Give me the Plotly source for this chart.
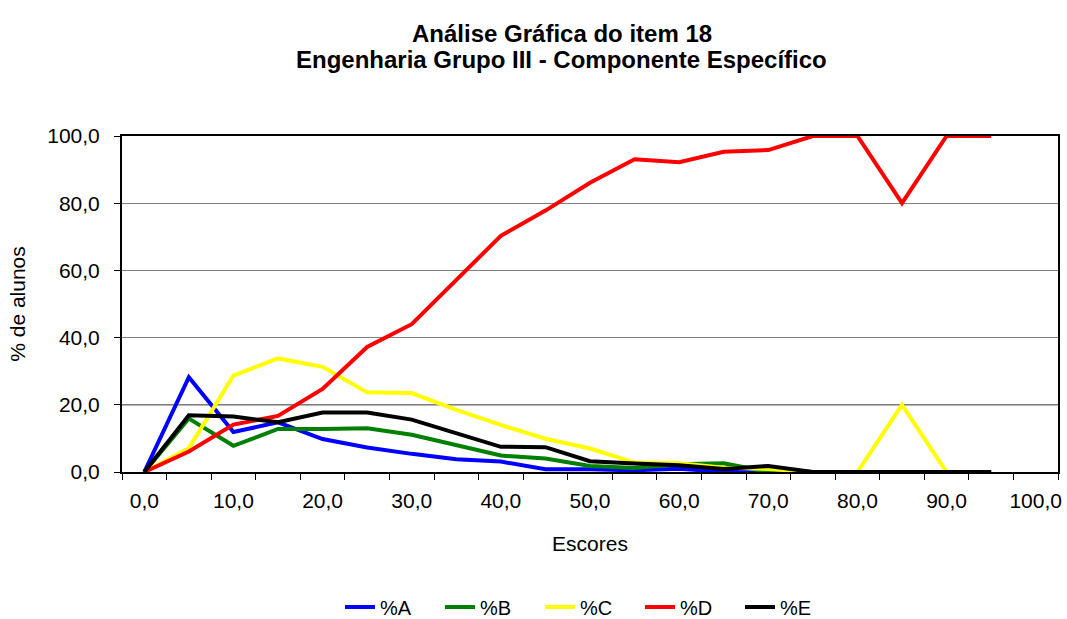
import plotly.graph_objects as go

# Escores (categorias do eixo x)
escores = [0, 5, 10, 15, 20, 25, 30, 35, 40, 45, 50, 55, 60, 65, 70, 75, 80, 85, 90, 95]

pct_a = [0.0, 28.2, 11.9, 14.8, 9.8, 7.3, 5.4, 3.8, 3.1, 0.8, 0.8, 0.5, 1.0, 0.0, 0.5, 0.0, 0.0, 0.0, 0.0, 0.0]
pct_b = [0.0, 15.9, 7.8, 12.8, 12.8, 13.0, 11.1, 8.1, 4.9, 4.0, 1.8, 1.2, 2.3, 2.6, 0.0, 0.0, 0.0, 0.0, 0.0, 0.0]
pct_c = [0.0, 7.1, 28.7, 33.8, 31.3, 23.7, 23.5, 18.5, 14.0, 9.9, 7.0, 2.8, 2.6, 1.3, 0.9, 0.0, 0.0, 20.0, 0.0, 0.0]
pct_d = [0.0, 6.1, 14.1, 16.7, 24.7, 37.2, 44.0, 57.2, 70.3, 77.8, 86.1, 93.1, 92.2, 95.3, 95.8, 100.0, 100.0, 80.0, 100.0, 100.0]
pct_e = [0.0, 16.9, 16.5, 14.8, 17.7, 17.7, 15.6, 11.6, 7.5, 7.4, 3.2, 2.5, 2.0, 0.9, 1.8, 0.0, 0.0, 0.0, 0.0, 0.0]

series = [
    ("%A", pct_a, "#0000ff"),
    ("%B", pct_b, "#008000"),
    ("%C", pct_c, "#ffff00"),
    ("%D", pct_d, "#ff0000"),
    ("%E", pct_e, "#000000"),
]

x_labels = [0, 10, 20, 30, 40, 50, 60, 70, 80, 90, 100]
y_ticks = [0, 20, 40, 60, 80, 100]
cat_edges = [-2.5, 2.5, 7.5, 12.5, 17.5, 22.5, 27.5, 32.5, 37.5, 42.5, 47.5, 52.5,
             57.5, 62.5, 67.5, 72.5, 77.5, 82.5, 87.5, 92.5, 97.5, 102.5]

title_lines = ["Análise Gráfica do item 18", "Engenharia Grupo III - Componente Específico"]

FONT = "Liberation Sans, Arial, sans-serif"

fig = go.Figure()
for name, vals, color in series:
    fig.add_trace(
        go.Scatter(
            x=escores,
            y=vals,
            mode="lines",
            name=name,
            line=dict(color=color, width=4),
        )
    )

# linha de grade em 20,0 aparece preta no original
fig.add_shape(
    type="line", xref="paper", x0=0, x1=1, yref="y", y0=y_ticks[1], y1=y_ticks[1],
    line=dict(color="#000000", width=1), layer="between",
)

# título em duas linhas (espaçamento mais apertado que o <br> do plotly)
for text, ypos in zip(title_lines, [1.3065, 1.229]):
    fig.add_annotation(
        text=f"<b>{text}</b>",
        xref="paper", yref="paper", x=0.47, y=ypos,
        xanchor="center", yanchor="middle", showarrow=False,
        font=dict(family=FONT, size=24, color="#000000"),
    )

fig.update_layout(
    width=1067,
    height=619,
    paper_bgcolor="white",
    plot_bgcolor="white",
    separators=",.",
    margin=dict(l=122, r=9, t=136, b=147, autoexpand=False),
    font=dict(family=FONT, size=21, color="#000000"),
    xaxis=dict(
        range=[cat_edges[0], cat_edges[-1]],
        tickmode="array",
        tickvals=x_labels,
        tickformat=".1f",
        ticks="",
        showgrid=False,
        zeroline=False,
        showline=True,
        mirror=True,
        linecolor="#000000",
        linewidth=2,
        automargin=False,
        ticklabelstandoff=9,
        minor=dict(tickmode="array", tickvals=cat_edges, ticks="outside", ticklen=6,
                   tickcolor="#000000", tickwidth=1, showgrid=False),
        title=dict(text="Escores", font=dict(size=21), standoff=25),
        tickfont=dict(size=21),
    ),
    yaxis=dict(
        range=[0, 100],
        tickmode="array",
        tickvals=y_ticks,
        tickformat=".1f",
        ticks="outside",
        ticklen=6,
        tickcolor="#000000",
        showgrid=True,
        gridcolor="#808080",
        gridwidth=1,
        zeroline=False,
        showline=True,
        mirror=True,
        linecolor="#000000",
        linewidth=2,
        automargin=False,
        ticklabelstandoff=10,
        title=dict(text="% de alunos", font=dict(size=21), standoff=16),
        tickfont=dict(size=21),
    ),
    legend=dict(
        orientation="h",
        x=0.5,
        xanchor="center",
        y=-0.402,
        yanchor="middle",
        entrywidth=55,
        entrywidthmode="pixels",
        font=dict(size=20),
        bgcolor="rgba(0,0,0,0)",
    ),
    showlegend=True,
)

# sem a margem padrão do <body>, a figura ocupa exatamente a janela
fig.write_html(
    "out.html",
    config={"displayModeBar": False},
    post_script="document.body.style.margin='0';document.body.style.overflow='hidden';",
)
